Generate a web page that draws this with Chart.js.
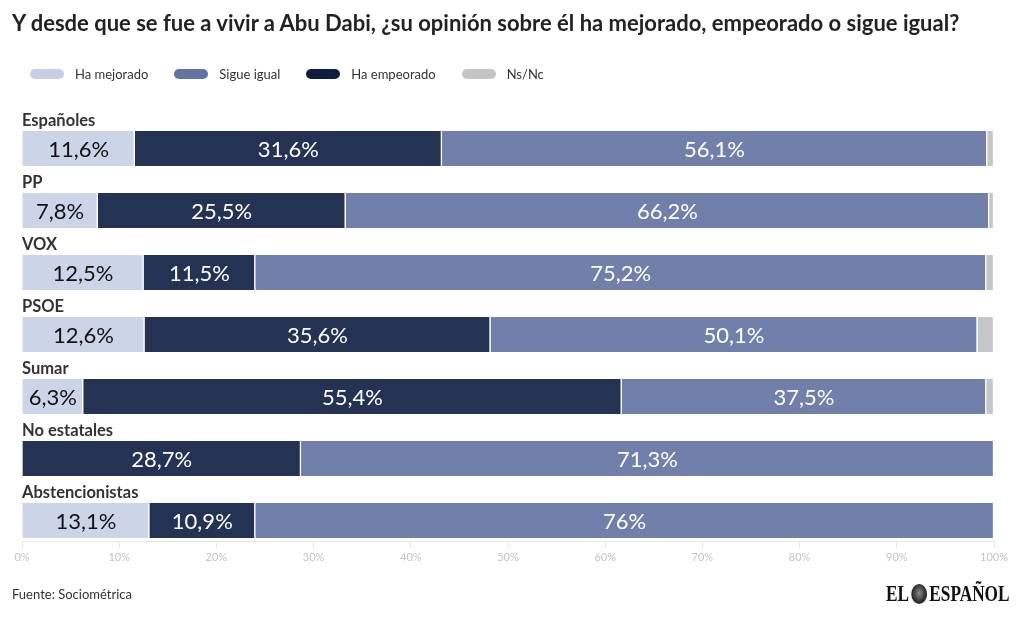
<!DOCTYPE html>
<html><head><meta charset="utf-8">
<script src="https://cdn.jsdelivr.net/npm/chart.js@4.4.1/dist/chart.umd.min.js"></script>
<style>
html,body{margin:0;padding:0;background:#fff;}
body{width:1020px;height:617px;position:relative;overflow:hidden;font-family:Lato,'Noto Sans',sans-serif;}
#c{position:absolute;left:0;top:0;}
#title{position:absolute;left:12px;top:9px;font-size:22px;font-weight:700;color:#222;white-space:nowrap;}
#legend{position:absolute;left:30px;top:66px;display:flex;align-items:center;font-size:13px;color:#333;}
.item{display:flex;align-items:center;margin-right:26px;}
.sw{width:34px;height:10px;border-radius:5px;margin-right:11px;}
#source{position:absolute;left:12px;top:586px;font-size:13px;color:#333;}
#logo{position:absolute;right:10px;top:580px;font-family:'Liberation Serif','DejaVu Serif',serif;font-weight:700;font-size:24px;color:#111;transform:scaleX(0.72);transform-origin:right center;white-space:nowrap;display:flex;align-items:center;}
#lion{display:inline-block;width:22px;height:20px;border-radius:50%;background:radial-gradient(circle at 50% 45%,#888 0%,#333 55%,#111 100%);margin:0 3px;}
</style></head>
<body>
<canvas id="c" width="1020" height="617"></canvas>
<div id="title">Y desde que se fue a vivir a Abu Dabi, ¿su opinión sobre él ha mejorado, empeorado o sigue igual?</div>
<div id="legend"></div>
<div id="source">Fuente: Sociométrica</div>
<div id="logo"><span>EL</span><span id="lion"></span><span>ESPAÑOL</span></div>
<script>
const FONT = "Lato, 'Noto Sans', sans-serif";
const categories = ['Españoles','PP','VOX','PSOE','Sumar','No estatales','Abstencionistas'];
const haMejorado  = [11.6, 7.8, 12.5, 12.6, 6.3, 0, 13.1];
const haEmpeorado = [31.6, 25.5, 11.5, 35.6, 55.4, 28.7, 10.9];
const sigueIgual  = [56.1, 66.2, 75.2, 50.1, 37.5, 71.3, 76];
const nsNc        = [0.7, 0.5, 0.8, 1.7, 0.8, 0, 0];
const xTicks = [0,10,20,30,40,50,60,70,80,90,100];

const seriesNames  = ['Ha mejorado','Ha empeorado','Sigue igual','Ns/Nc'];
const seriesValues = [haMejorado, haEmpeorado, sigueIgual, nsNc];
const barColors    = ['#ccd4e7','#243353','#7080aa','#c6c6c6'];
const legendColors = ['#c6cfe6','#0f1d40','#6174a3','#c4c4c4'];
const labelColors  = ['#111111','#ffffff','#ffffff',null];
const legendOrder  = [0,2,1,3];

const BAR = 35;

const lg = document.getElementById('legend');
legendOrder.forEach(i=>{
  const it = document.createElement('div'); it.className='item';
  const sw = document.createElement('span'); sw.className='sw'; sw.style.background=legendColors[i];
  const tx = document.createElement('span'); tx.textContent = seriesNames[i];
  it.appendChild(sw); it.appendChild(tx); lg.appendChild(it);
});

const fmt = v => String(v).replace('.', ',') + '%';

const labelPlugin = {
  id:'labels',
  afterDatasetsDraw(chart){
    const ctx = chart.ctx;
    const yScale = chart.scales.y;
    ctx.save();
    ctx.font = 'bold 16.5px ' + FONT;
    ctx.fillStyle = '#333';
    ctx.textAlign = 'left'; ctx.textBaseline = 'alphabetic';
    categories.forEach((c,i)=>{
      const yc = yScale.getPixelForValue(i);
      ctx.fillText(c, chart.chartArea.left, yc - BAR/2 - 5);
    });
    ctx.font = '22px ' + FONT;
    ctx.textAlign = 'center'; ctx.textBaseline = 'middle';
    chart.data.datasets.forEach((ds, di)=>{
      if (!labelColors[di]) return;
      const meta = chart.getDatasetMeta(di);
      meta.data.forEach((el, i)=>{
        const v = seriesValues[di][i];
        if (!v) return;
        const p = el.getProps(['x','y','base'], true);
        ctx.fillStyle = labelColors[di];
        ctx.fillText(fmt(v), (p.x + p.base)/2, p.y + 1);
      });
    });
    ctx.restore();
  }
};

new Chart(document.getElementById('c'), {
  type:'bar',
  data:{
    datasets: seriesNames.map((n, di)=>({
      label:n,
      data: seriesValues[di].map((v,i)=>({x:v, y:i})),
      backgroundColor: barColors[di],
      borderColor:'#ffffff',
      borderWidth:{left:0,right:1.5,top:0,bottom:0},
      borderSkipped:false,
      barThickness:BAR
    }))
  },
  options:{
    indexAxis:'y', responsive:false, animation:false,
    layout:{padding:{top:100,left:22,right:26,bottom:0}},
    plugins:{legend:{display:false}, title:{display:false}, tooltip:{enabled:false}},
    scales:{
      x:{type:'linear', stacked:true, min:0, max:100, position:'bottom', offset:false,
        afterBuildTicks(s){ s.ticks = xTicks.map(v=>({value:v})); },
        ticks:{callback:v=>v+'%', color:'#c4c4c4', font:{family:FONT,size:11}, padding:3, maxRotation:0, autoSkip:false},
        grid:{drawOnChartArea:false, drawTicks:true, tickLength:7, color:'#e6e6e6', offset:false},
        border:{color:'#e6e6e6'},
        afterFit(s){ s.height = 76; }
      },
      y:{type:'linear', stacked:true, reverse:true, min:-0.782, max:6.331, display:false, offset:false, grid:{offset:false}}
    }
  },
  plugins:[labelPlugin]
});
</script>
</body></html>
